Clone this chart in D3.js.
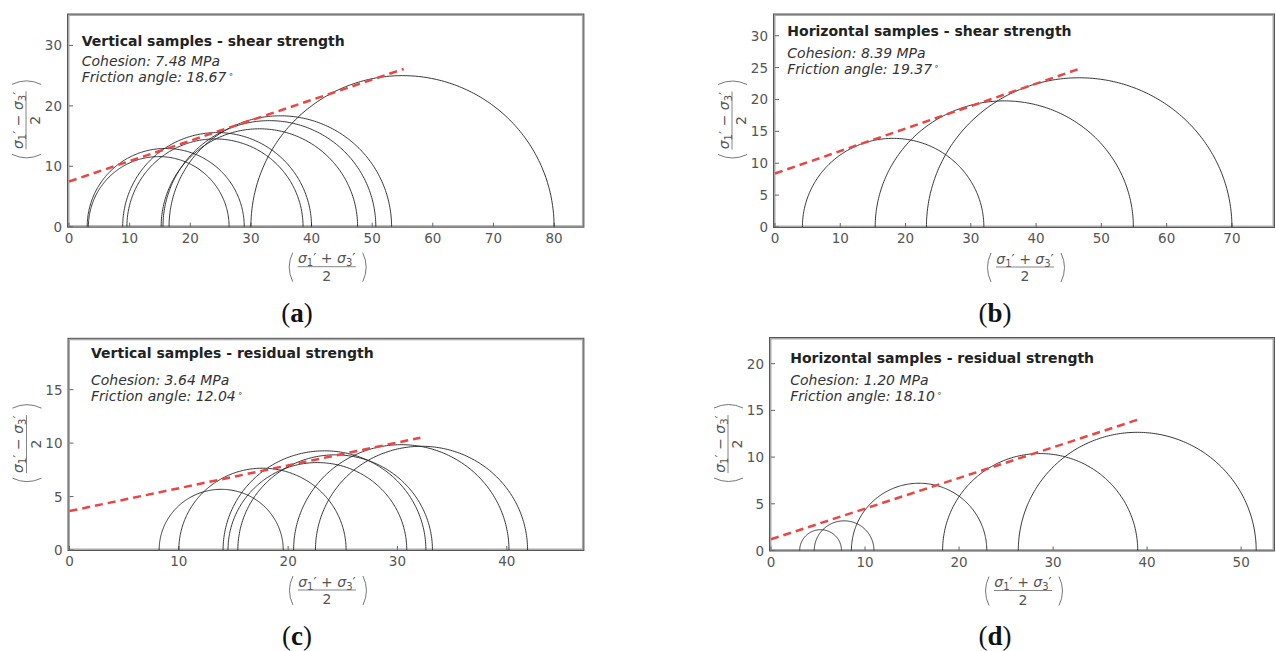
<!DOCTYPE html>
<html>
<head>
<meta charset="utf-8">
<script src="https://cdn.jsdelivr.net/npm/d3@7"></script>
<style>
body{margin:0;background:#fff}
svg{display:block;font-family:"DejaVu Sans",sans-serif}
</style>
</head>
<body>
<svg id="chart" width="1276" height="651"></svg>
<script>
// Mohr circles, each one [sigma3', sigma1'] = where it meets the axis
var circles_a = [[3.0, 28.9], [3.2, 26.4], [8.85, 40.0], [9.55, 38.6], [15.2, 47.6], [15.5, 50.6], [16.5, 53.2], [30.0, 80.0]]
var circles_b = [[4.2, 32.0], [15.35, 54.9], [23.2, 70.0]]
var circles_c = [[8.2, 19.55], [10.0, 25.3], [14.05, 32.6], [14.5, 30.85], [15.4, 33.2], [20.5, 40.2], [22.5, 41.9]]
var circles_d = [[3.05, 7.5], [4.6, 10.95], [8.55, 22.95], [18.25, 39.0], [26.3, 51.6]]

// failure envelope, start and end point
var env_a = [[0, 7.48], [55.2, 26.1]]
var env_b = [[0, 8.39], [46.6, 24.8]]
var env_c = [[0, 3.64], [32.1, 10.5]]
var env_d = [[0, 1.20], [39.0, 14.0]]

var titles = ['Vertical samples - shear strength', 'Horizontal samples - shear strength',
	'Vertical samples - residual strength', 'Horizontal samples - residual strength']
var cohesion = ['7.48', '8.39', '3.64', '1.20']
var friction = ['18.67', '19.37', '12.04', '18.10']
var captions = ['a', 'b', 'c', 'd']

var xticks_a = [0, 10, 20, 30, 40, 50, 60, 70, 80]
var xticks_b = [0, 10, 20, 30, 40, 50, 60, 70]
var xticks_c = [0, 10, 20, 30, 40]
var xticks_d = [0, 10, 20, 30, 40, 50]
var yticks_a = [0, 10, 20, 30]
var yticks_b = [0, 5, 10, 15, 20, 25, 30]
var yticks_c = [0, 5, 10, 15]
var yticks_d = [0, 5, 10, 15, 20]
var xmax = [85, 76.6, 47.1, 53.6]
var ymax = [35.2, 33.4, 19.8, 22.8]

// where each panel sits on the page
var layout = [
	{x0: 69, x1: 584.4, y0: 226.7, y1: 14, tx: 81.7, ty: [45.5, 66, 81.5], cap: [297, 322]},
	{x0: 775, x1: 1275, y0: 227, y1: 14, tx: 787.3, ty: [36, 57.5, 73.5], cap: [995, 322]},
	{x0: 69.5, x1: 584.4, y0: 550, y1: 338.3, tx: 91, ty: [357.5, 385, 401], cap: [297, 645]},
	{x0: 771, x1: 1275, y0: 550.5, y1: 337.5, tx: 790.2, ty: [362.5, 384.5, 400.5], cap: [995, 645]}
]

var svg = d3.select('svg#chart')

function frac(g, cx, cy, rot, sign){
	var f = g.append('g')
		.attr('transform', 'translate(' + cx + ',' + cy + ') rotate(' + rot + ')')
		.style('fill', '#555')
	var num = f.append('text')
		.attr('text-anchor', 'middle')
		.attr('y', -3.5)
		.style('font-size', '14px')
	num.append('tspan').style('font-style', 'italic').text('σ')
	num.append('tspan').attr('dy', 3).style('font-size', '10px').text('1')
	num.append('tspan').attr('dy', -3).text('′ ' + sign + ' ')
	num.append('tspan').style('font-style', 'italic').text('σ')
	num.append('tspan').attr('dy', 3).style('font-size', '10px').text('3')
	num.append('tspan').attr('dy', -3).text('′')
	f.append('line')
		.attr('x1', -29).attr('x2', 29)
		.attr('y1', 0).attr('y2', 0)
		.style('stroke', '#666').style('stroke-width', 0.8)
	f.append('text')
		.attr('text-anchor', 'middle')
		.attr('y', 14)
		.style('font-size', '14px')
		.text('2')
	f.append('path')
		.attr('d', 'M-34,-14 Q-41,0.5 -34,15 M36,-14 Q43,0.5 36,15')
		.style('fill', 'none').style('stroke', '#777').style('stroke-width', 1)
}

function draw(i, circles, env, xticks, yticks){
	var L = layout[i]
	var x = d3.scaleLinear().domain([0, xmax[i]]).range([L.x0, L.x1])
	var y = d3.scaleLinear().domain([0, ymax[i]]).range([L.y0, L.y1])
	var g = svg.append('g')

	// frame
	g.append('rect')
		.attr('x', L.x0 - 0.5).attr('y', L.y1 + 1)
		.attr('width', L.x1 - L.x0 - 1).attr('height', L.y0 - L.y1 - 1.5)
		.style('fill', 'none').style('stroke', '#aaa').style('stroke-width', 2)
	g.append('rect')
		.attr('x', L.x0 - 1.5).attr('y', L.y1)
		.attr('width', L.x1 - L.x0 + 1).attr('height', L.y0 - L.y1 + 0.5)
		.style('fill', 'none').style('stroke', '#555').style('stroke-width', 1)

	// ticks
	g.selectAll('.xt').data(xticks).enter().append('line')
		.attr('x1', function(d){return x(d)}).attr('x2', function(d){return x(d)})
		.attr('y1', L.y0).attr('y2', L.y0 - 4)
		.style('stroke', '#666')
	g.selectAll('.xl').data(xticks).enter().append('text')
		.attr('x', function(d){return x(d)}).attr('y', L.y0 + 16)
		.attr('text-anchor', 'middle')
		.style('font-size', '13.5px').style('fill', '#555')
		.text(function(d){return d})
	g.selectAll('.yt').data(yticks).enter().append('line')
		.attr('x1', L.x0).attr('x2', L.x0 + 4)
		.attr('y1', function(d){return y(d)}).attr('y2', function(d){return y(d)})
		.style('stroke', '#666')
	g.selectAll('.yl').data(yticks).enter().append('text')
		.attr('x', L.x0 - 7).attr('y', function(d){return y(d) + 5})
		.attr('text-anchor', 'end')
		.style('font-size', '13.5px').style('fill', '#555')
		.text(function(d){return d})

	// circles
	var line = d3.line()
		.x(function(p){return x(p[0])})
		.y(function(p){return y(p[1])})
	g.selectAll('.circle').data(circles).enter().append('path')
		.attr('d', function(d){
			var c = (d[0] + d[1]) / 2, r = (d[1] - d[0]) / 2
			var pts = d3.range(0, 181, 1).map(function(a){
				var t = a * Math.PI / 180
				return [c - r * Math.cos(t), r * Math.sin(t)]
			})
			return line(pts)
		})
		.style('fill', 'none').style('stroke', '#222').style('stroke-width', 0.9)

	// envelope
	g.append('path')
		.attr('d', line(env))
		.style('fill', 'none').style('stroke', '#ee4444')
		.style('stroke-width', 2.5).style('stroke-dasharray', '8,5')

	// texts
	g.append('text').attr('x', L.tx).attr('y', L.ty[0])
		.style('font-size', '14px').style('font-weight', 'bold').style('fill', '#222')
		.text(titles[i])
	g.append('text').attr('x', L.tx).attr('y', L.ty[1])
		.style('font-size', '14px').style('font-style', 'italic').style('fill', '#333')
		.text('Cohesion: ' + cohesion[i] + ' MPa')
	var ft = g.append('text').attr('x', L.tx).attr('y', L.ty[2])
		.style('font-size', '14px').style('font-style', 'italic').style('fill', '#333')
	ft.append('tspan').text('Friction angle: ' + friction[i])
	ft.append('tspan').attr('dx', 2).attr('dy', -5).style('font-size', '8px').text('∘')

	// axis labels
	frac(g, (L.x0 + L.x1) / 2, L.y0 + 40, 0, '+')
	frac(g, L.x0 - 43, (L.y0 + L.y1) / 2, -90, '−')

	// caption
	var cap = g.append('text').attr('x', L.cap[0]).attr('y', L.cap[1])
		.attr('text-anchor', 'middle')
		.style('font-family', '"Liberation Serif", serif').style('font-size', '27px').style('fill', '#111')
	cap.append('tspan').text('(')
	cap.append('tspan').style('font-weight', 'bold').text(captions[i])
	cap.append('tspan').text(')')
}

draw(0, circles_a, env_a, xticks_a, yticks_a)
draw(1, circles_b, env_b, xticks_b, yticks_b)
draw(2, circles_c, env_c, xticks_c, yticks_c)
draw(3, circles_d, env_d, xticks_d, yticks_d)
</script>
</body>
</html>
